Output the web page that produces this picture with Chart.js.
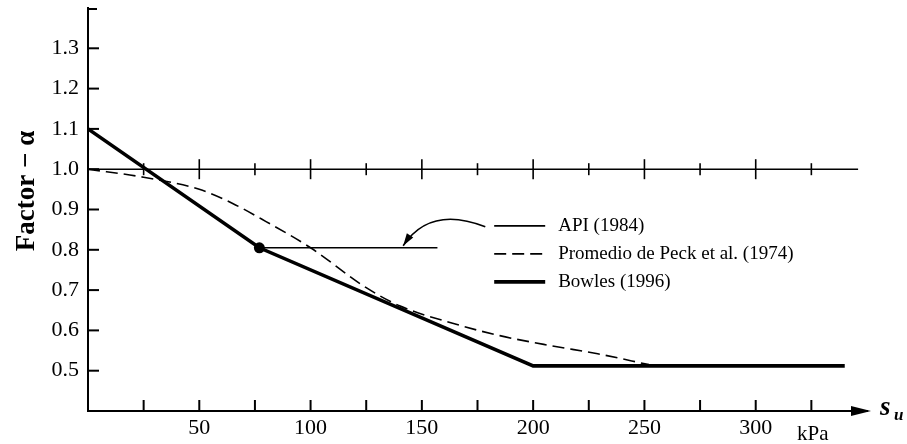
<!DOCTYPE html>
<html>
<head>
<meta charset="utf-8">
<script src="https://cdn.jsdelivr.net/npm/chart.js@4.4.0/dist/chart.umd.min.js"></script>
<style>
  html, body { margin: 0; padding: 0; background: #fff; }
</style>
</head>
<body>
<canvas id="grafico" width="907" height="444"></canvas>
<script>
// Datos (su en kPa, factor alfa)
const suPeck = [0, 25, 50, 65, 80, 100, 125, 140, 163, 185, 208, 229, 252];
const alfaPeck = [1.0, 0.98, 0.95, 0.915, 0.87, 0.805, 0.706, 0.661, 0.619, 0.587, 0.562, 0.542, 0.515];

const suBowles = [0, 77, 200, 340];
const alfaBowles = [1.10, 0.805, 0.512, 0.512];

const suApi = [77, 157];
const alfaApi = [0.805, 0.805];

// Línea de referencia alfa = 1.0
const suRef = [0, 346];
const alfaRef = [1.0, 1.0];

// Etiquetas de los ejes
const etiquetasX = [50, 100, 150, 200, 250, 300];
const etiquetasY = [0.5, 0.6, 0.7, 0.8, 0.9, 1.0, 1.1, 1.2, 1.3];

const fuente = 'Liberation Serif';

function puntos(xs, ys) {
  return xs.map((x, i) => ({ x: x, y: ys[i] }));
}

// Plugin para marcas, flechas, leyenda y textos
const extras = {
  id: 'extras',
  afterDatasetsDraw(chart) {
    const ctx = chart.ctx;
    const x = chart.scales.x;
    const y = chart.scales.y;
    ctx.save();
    ctx.strokeStyle = '#000';
    ctx.fillStyle = '#000';

    // marcas del eje Y hacia dentro
    ctx.lineWidth = 2;
    y.ticks.forEach(t => {
      const v = Math.round(t.value * 10) / 10;
      if (!etiquetasY.includes(v)) return;
      const py = y.getPixelForValue(v);
      ctx.beginPath();
      ctx.moveTo(x.left, py);
      ctx.lineTo(x.left + 11, py);
      ctx.stroke();
    });

    // gancho superior del eje Y
    ctx.beginPath();
    ctx.moveTo(x.left, y.top + 1);
    ctx.lineTo(x.left + 9, y.top + 1);
    ctx.stroke();

    // marcas del eje X hacia arriba y sobre la línea de 1.0
    const pyRef = y.getPixelForValue(1.0);
    x.ticks.forEach(t => {
      if (t.value <= 0 || t.value >= x.max) return;
      const px = x.getPixelForValue(t.value);
      ctx.lineWidth = 2;
      ctx.beginPath();
      ctx.moveTo(px, y.bottom);
      ctx.lineTo(px, y.bottom - 11);
      ctx.stroke();
      const h = t.value % 50 === 0 ? 10 : 6;
      ctx.lineWidth = 1.6;
      ctx.beginPath();
      ctx.moveTo(px, pyRef - h);
      ctx.lineTo(px, pyRef + h);
      ctx.stroke();
    });

    // punta de flecha del eje X
    const xr = x.right;
    ctx.beginPath();
    ctx.moveTo(xr + 4, y.bottom);
    ctx.lineTo(xr - 16, y.bottom - 5);
    ctx.lineTo(xr - 16, y.bottom + 5);
    ctx.closePath();
    ctx.fill();

    // flecha curva hacia la línea API
    const p0 = { x: x.getPixelForValue(178.5), y: y.getPixelForValue(0.857) };
    const c = { x: x.getPixelForValue(153.8), y: y.getPixelForValue(0.911) };
    const p2 = { x: x.getPixelForValue(141.6), y: y.getPixelForValue(0.81) };
    ctx.lineWidth = 1.6;
    ctx.beginPath();
    ctx.moveTo(p0.x, p0.y);
    ctx.quadraticCurveTo(c.x, c.y, p2.x, p2.y);
    ctx.stroke();
    const ang = Math.atan2(p2.y - c.y, p2.x - c.x);
    ctx.beginPath();
    ctx.moveTo(p2.x, p2.y);
    ctx.lineTo(p2.x - 13 * Math.cos(ang - 0.3), p2.y - 13 * Math.sin(ang - 0.3));
    ctx.lineTo(p2.x - 13 * Math.cos(ang + 0.3), p2.y - 13 * Math.sin(ang + 0.3));
    ctx.closePath();
    ctx.fill();

    // leyenda dentro del área
    const lx0 = x.getPixelForValue(182.5);
    const lx1 = lx0 + 51;
    let ly = y.getPixelForValue(0.857) - 1;
    ctx.font = '19px "' + fuente + '"';
    ctx.textBaseline = 'middle';
    ctx.textAlign = 'left';
    chart.data.datasets.forEach(ds => {
      if (!ds.enLeyenda) return;
      ctx.lineWidth = ds.borderWidth;
      ctx.setLineDash(ds.borderDash || []);
      ctx.beginPath();
      ctx.moveTo(lx0, ly);
      ctx.lineTo(lx1, ly);
      ctx.stroke();
      ctx.setLineDash([]);
      ctx.fillText(ds.label, lx1 + 13, ly);
      ly += 28;
    });

    // título del eje Y
    ctx.save();
    ctx.translate(27, 191);
    ctx.rotate(-Math.PI / 2);
    ctx.textAlign = 'center';
    ctx.font = 'bold 27px "' + fuente + '"';
    ctx.fillText('Factor \u2212 \u03b1', 0, 0);
    ctx.restore();

    // unidades y título del eje X
    ctx.textAlign = 'left';
    ctx.font = '21px "' + fuente + '"';
    ctx.fillText('kPa', 797, y.bottom + 23);
    ctx.font = 'bold italic 27px "' + fuente + '"';
    ctx.fillText('s', 880, y.bottom - 3);
    ctx.font = 'bold italic 17px "' + fuente + '"';
    ctx.fillText('u', 894, y.bottom + 5);

    ctx.restore();
  }
};

const grafico = new Chart(document.getElementById('grafico').getContext('2d'), {
  type: 'line',
  data: {
    datasets: [
      {
        label: 'referencia',
        data: puntos(suRef, alfaRef),
        borderColor: '#000',
        borderWidth: 1.6,
        pointRadius: 0
      },
      {
        label: 'API (1984)',
        enLeyenda: true,
        data: puntos(suApi, alfaApi),
        borderColor: '#000',
        borderWidth: 1.6,
        pointRadius: [5.5, 0],
        pointBackgroundColor: '#000',
        pointBorderWidth: 0
      },
      {
        label: 'Promedio de Peck et al. (1974)',
        enLeyenda: true,
        data: puntos(suPeck, alfaPeck),
        borderColor: '#000',
        borderWidth: 1.6,
        borderDash: [12, 6],
        cubicInterpolationMode: 'monotone',
        pointRadius: 0
      },
      {
        label: 'Bowles (1996)',
        enLeyenda: true,
        data: puntos(suBowles, alfaBowles),
        borderColor: '#000',
        borderWidth: 3.6,
        pointRadius: 0
      }
    ]
  },
  options: {
    responsive: false,
    animation: false,
    layout: { padding: { top: 8, right: 40, left: 0, bottom: 0 } },
    plugins: {
      legend: { display: false },
      tooltip: { enabled: false }
    },
    scales: {
      x: {
        type: 'linear',
        min: 0,
        max: 350,
        grid: { display: false, drawTicks: false },
        border: { display: true, color: '#000', width: 2 },
        ticks: {
          stepSize: 25,
          autoSkip: false,
          maxRotation: 0,
          padding: 4,
          color: '#000',
          font: { family: fuente, size: 22 },
          callback: v => etiquetasX.includes(v) ? String(v) : ''
        },
        afterFit(s) { s.height = 33; s.paddingLeft = 0; s.paddingRight = 0; }
      },
      y: {
        min: 0.4,
        max: 1.4,
        grid: { display: false, drawTicks: false },
        border: { display: true, color: '#000', width: 2 },
        ticks: {
          stepSize: 0.1,
          autoSkip: false,
          padding: 9,
          color: '#000',
          font: { family: fuente, size: 22 },
          callback: v => {
            const r = Math.round(v * 10) / 10;
            return etiquetasY.includes(r) ? r.toFixed(1) : '';
          }
        },
        afterFit(s) { s.width = 88; s.paddingTop = 0; s.paddingBottom = 0; }
      }
    }
  },
  plugins: [extras]
});
</script>
</body>
</html>
